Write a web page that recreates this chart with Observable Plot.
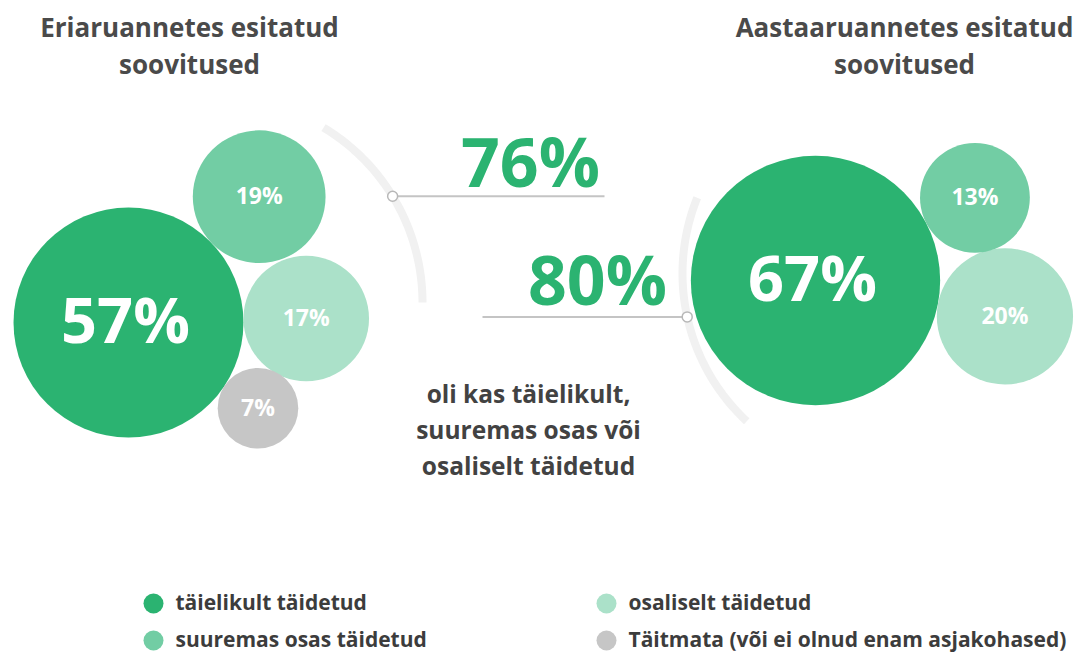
<!DOCTYPE html>
<html>
<head>
<meta charset="utf-8">
<script src="https://cdn.jsdelivr.net/npm/d3@7"></script>
<script src="https://cdn.jsdelivr.net/npm/@observablehq/plot@0.6"></script>
<style>
  html, body { margin: 0; padding: 0; background: #fff; }
  svg { display: block; }
</style>
</head>
<body>
<div id="chart"></div>
<script>
// ---------- data ----------
const groupTitles = ["Eriaruannetes esitatud\nsoovitused", "Aastaaruannetes esitatud\nsoovitused"];
const categories = ["täielikult täidetud", "suuremas osas täidetud", "osaliselt täidetud", "Täitmata (või ei olnud enam asjakohased)"];
const eriValues = [57, 19, 17, 7];
const aastaValues = [67, 13, 20, null];
const totals = [76, 80];
const middleText = "oli kas täielikult,\nsuuremas osas või\nosaliselt täidetud";

// ---------- styles ----------
const colors = ["#2bb371", "#72cda4", "#abe1c9", "#c6c6c6"];
const textDark = "#4a4a4a";

// ---------- layout ----------
const W = 1081, H = 652;
const layout = [
  {cx: 128, cy: 322, angles: [null, -43.9, -1.3, 33.5], titleX: 189,
   arc: {cx: 218, cy: 302, R: 204, a0: -59, a1: 0}, connAngle: -31.4, connTo: 604, totalX: 530, totalY: 165},
  {cx: 815, cy: 280, angles: [null, -27.4, 10.7, null], titleX: 904,
   arc: {cx: 884, cy: 273, R: 202, a0: 133, a1: 202}, connAngle: 167.6, connTo: 482, totalX: 597, totalY: 283}
];

const rScale = Plot.scale({r: {type: "sqrt", domain: [0, 100], range: [0, 152.3]}});

const series = [eriValues, aastaValues];
const bubbles = [];
series.forEach((vals, g) => {
  const L = layout[g];
  const r0 = rScale.apply(vals[0]);
  vals.forEach((v, i) => {
    if (v == null) return;
    let x = L.cx, y = L.cy;
    if (i > 0) {
      const d = r0 + rScale.apply(v);
      const a = L.angles[i] * Math.PI / 180;
      x = L.cx + d * Math.cos(a);
      y = L.cy + d * Math.sin(a);
    }
    bubbles.push({group: g, cat: i, value: v, x, y, label: v + "%", big: i === 0});
  });
});

const arcs = [];
layout.forEach((L, g) => {
  const A = L.arc;
  for (let a = A.a0; a <= A.a1 + 1e-9; a += 1) {
    const t = a * Math.PI / 180;
    arcs.push({g, x: A.cx + A.R * Math.cos(t), y: A.cy + A.R * Math.sin(t)});
  }
});

const connectors = layout.map((L, g) => {
  const A = L.arc, t = L.connAngle * Math.PI / 180;
  const x = A.cx + A.R * Math.cos(t), y = A.cy + A.R * Math.sin(t);
  return {x1: x, y1: y, x2: L.connTo, y2: y};
});

const totalLabels = totals.map((v, g) => ({x: layout[g].totalX, y: layout[g].totalY, label: v + "%"}));
const titles = groupTitles.map((t, g) => ({x: layout[g].titleX, y: 43, label: t}));

const legend = categories.map((c, i) => ({
  cat: c, i,
  x: i === 0 || i === 1 ? 153 : 606,
  y: i === 0 || i === 2 ? 603 : 640
}));

const plot = Plot.plot({
  width: W, height: H, margin: 0,
  x: {domain: [0, W], range: [0, W], axis: null},
  y: {domain: [0, H], range: [0, H], axis: null},
  r: {type: "sqrt", domain: [0, 100], range: [0, 152.3]},
  style: {fontFamily: "'Open Sans', sans-serif", background: "#fff"},
  marks: [
    Plot.line(arcs, {x: "x", y: "y", z: "g", stroke: "#f1f1f1", strokeWidth: 8, strokeLinecap: "butt"}),
    Plot.link(connectors, {x1: "x1", y1: "y1", x2: "x2", y2: "y2", stroke: "#c4c4c4", strokeWidth: 2}),
    Plot.dot(connectors, {x: "x1", y: "y1", r: 5, fill: "#fff", stroke: "#b8b8b8", strokeWidth: 1.5}),
    Plot.dot(bubbles, {x: "x", y: "y", r: "value", fill: d => colors[d.cat], stroke: null}),
    Plot.text(bubbles, {x: d => d.big ? d.x - 3 : d.x, y: "y", text: "label", fill: "#fff", fontWeight: 700,
      fontSize: d => d.big ? 63 : 23, lineAnchor: "middle"}),
    Plot.text(totalLabels, {x: "x", y: "y", text: "label", fill: colors[0], fontWeight: 700, fontSize: 68, lineAnchor: "middle"}),
    Plot.text(titles, {x: "x", y: "y", text: "label", fill: textDark, fontWeight: 700, fontSize: 26, lineHeight: 1.42, lineAnchor: "middle"}),
    Plot.text([middleText], {x: () => 528, y: () => 427, text: d => d, fill: "#424242", fontWeight: 700, fontSize: 24.5, lineHeight: 1.47, lineAnchor: "middle"}),
    Plot.dot(legend, {x: "x", y: "y", r: 10, fill: d => colors[d.i], stroke: null}),
    Plot.text(legend, {x: d => d.x + 22, y: "y", text: "cat", textAnchor: "start", fill: "#3c3c3c", fontWeight: 700, fontSize: 21, lineAnchor: "middle"})
  ]
});
document.getElementById("chart").appendChild(plot);
</script>
</body>
</html>
